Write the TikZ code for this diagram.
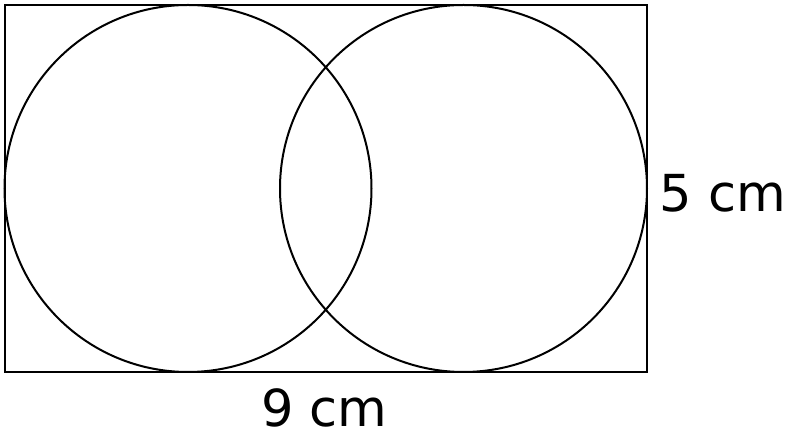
\documentclass[tikz,border=0pt]{standalone}
\usepackage{fontspec}
\setmainfont{DejaVu Sans}
\usepackage{tikz}
\usetikzlibrary{calc}

\begin{document}
\begin{tikzpicture}[x=0.5pt,y=-0.5pt,line width=1pt]
		\useasboundingbox (0,0) rectangle (800,442);
		
		\draw (5,5) rectangle (647,372);
		
		\draw (188,188.5) circle (91.75pt);
		
		\draw (463.5,188.5) circle (91.75pt);
		
		\node[anchor=base,inner sep=0pt,font=\fontsize{25.5}{30}\selectfont] (width) at (324.5,427) {9 cm};
		\node[anchor=base,inner sep=0pt,font=\fontsize{25.5}{30}\selectfont] (height) at (723,212) {5 cm};
			
		\end{tikzpicture}
\end{document}
